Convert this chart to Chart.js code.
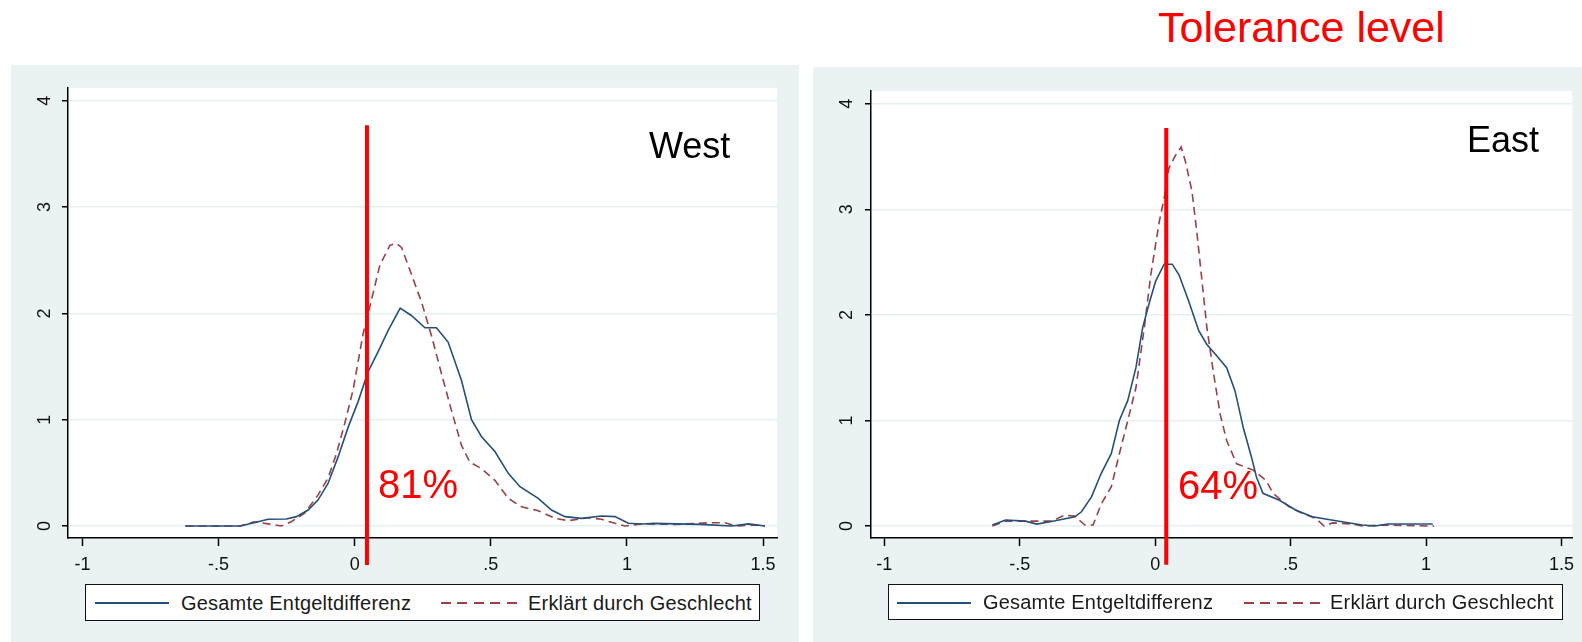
<!DOCTYPE html>
<html>
<head>
<meta charset="utf-8">
<script src="https://cdn.jsdelivr.net/npm/chart.js@4.4.1/dist/chart.umd.min.js"></script>
<style>
  html, body { margin: 0; padding: 0; background: #fff; }
  body { width: 1582px; height: 642px; position: relative; overflow: hidden; font-family: 'Liberation Sans', Arial, sans-serif; }
  .panel { position: absolute; background: #eaf2f3; }
  .panel canvas { position: absolute; left: 0; top: 0; }
  .label { position: absolute; line-height: 1; white-space: nowrap; }
  .legend { position: absolute; background: #fff; border: 1px solid #111; box-sizing: border-box; }
  .legend span { position: absolute; top: 50%; transform: translateY(-50%); font-size: 20px; letter-spacing: 0.2px; color: #1a1a1a; white-space: nowrap; }
  .legend i { position: absolute; top: 17px; height: 1.6px; }
  .solid { background: #24507a; }
  .dashed { background-image: repeating-linear-gradient(to right, #9a4147 0px, #9a4147 10px, transparent 10px, transparent 16.5px); }
</style>
</head>
<body>
  <div class="label" style="left:1158px; top:6px; font-size:43px; color:#ff0000;">Tolerance level</div>

  <div class="panel" style="left:11px; top:65px; width:788px; height:577px;">
    <canvas id="westChart" width="788" height="577"></canvas>
  </div>
  <div class="panel" style="left:813px; top:67px; width:769px; height:575px;">
    <canvas id="eastChart" width="769" height="575"></canvas>
  </div>

  <div class="label" style="left:649px; top:128px; font-size:36px; color:#000;">West</div>
  <div class="label" style="left:1467px; top:122px; font-size:36px; color:#000;">East</div>
  <div class="label" style="left:378px; top:464px; font-size:40px; color:#ff0000;">81%</div>
  <div class="label" style="left:1178px; top:465px; font-size:40px; color:#ff0000;">64%</div>

  <div class="legend" style="left:85px; top:584px; width:675px; height:37px;">
    <i class="solid" style="left:9px; width:74px;"></i>
    <span style="left:95px;">Gesamte Entgeltdifferenz</span>
    <i class="dashed" style="left:355px; width:76px;"></i>
    <span style="left:442px;">Erklärt durch Geschlecht</span>
  </div>
  <div class="legend" style="left:888px; top:584px; width:675px; height:36px;">
    <i class="solid" style="left:8px; width:74px;"></i>
    <span style="left:94px;">Gesamte Entgeltdifferenz</span>
    <i class="dashed" style="left:355px; width:76px;"></i>
    <span style="left:441px;">Erklärt durch Geschlecht</span>
  </div>

<script>
// Axis ticks
const xTickValues = [-1, -0.5, 0, 0.5, 1, 1.5];
const xTickLabels = ['-1', '-.5', '0', '.5', '1', '1.5'];
const yTickValues = [0, 1, 2, 3, 4];
const yTickLabels = ['0', '1', '2', '3', '4'];

const seriesNames = ['Gesamte Entgeltdifferenz', 'Erklärt durch Geschlecht'];

// West: Gesamte Entgeltdifferenz
const westTotalX = [-0.622, -0.42, -0.37, -0.318, -0.251, -0.214, -0.171, -0.135, -0.098, -0.061, -0.024, 0.0125, 0.049, 0.086, 0.123, 0.167, 0.208, 0.258, 0.30, 0.343, 0.392, 0.429, 0.466, 0.515, 0.564, 0.607, 0.674, 0.723, 0.772, 0.833, 0.907, 0.956, 1.005, 1.054, 1.10, 1.27, 1.385, 1.446, 1.507];
const westTotalY = [0, 0, 0.03, 0.063, 0.066, 0.088, 0.15, 0.244, 0.40, 0.65, 0.93, 1.17, 1.45, 1.64, 1.84, 2.05, 1.98, 1.865, 1.865, 1.73, 1.37, 1.0, 0.84, 0.70, 0.495, 0.37, 0.26, 0.15, 0.088, 0.072, 0.094, 0.088, 0.025, 0.019, 0.025, 0.015, 0, 0.02, 0];

// West: Erklärt durch Geschlecht
const westSexX = [-0.622, -0.42, -0.368, -0.318, -0.27, -0.233, -0.184, -0.135, -0.098, -0.067, -0.037, -0.006, 0.031, 0.061, 0.092, 0.129, 0.153, 0.172, 0.208, 0.245, 0.282, 0.319, 0.355, 0.392, 0.423, 0.466, 0.515, 0.564, 0.613, 0.674, 0.735, 0.785, 0.858, 0.907, 0.956, 0.993, 1.054, 1.18, 1.30, 1.36, 1.40, 1.47, 1.507];
const westSexY = [0, 0, 0.04, 0.02, 0, 0.04, 0.12, 0.29, 0.45, 0.68, 0.96, 1.28, 1.81, 2.12, 2.45, 2.64, 2.66, 2.62, 2.37, 2.11, 1.79, 1.43, 1.09, 0.76, 0.60, 0.54, 0.43, 0.26, 0.18, 0.144, 0.072, 0.05, 0.078, 0.063, 0.025, 0, 0.019, 0.015, 0.03, 0.03, 0, 0.01, 0];

// East: Gesamte Entgeltdifferenz
const eastTotalX = [-0.601, -0.552, -0.479, -0.437, -0.369, -0.296, -0.272, -0.235, -0.199, -0.162, -0.132, -0.101, -0.071, -0.046, -0.022, 0.002, 0.033, 0.063, 0.088, 0.124, 0.161, 0.191, 0.228, 0.264, 0.295, 0.325, 0.356, 0.374, 0.398, 0.459, 0.52, 0.58, 0.667, 0.764, 0.81, 0.86, 1.025];
const eastTotalY = [0.01, 0.057, 0.047, 0.019, 0.05, 0.088, 0.135, 0.276, 0.50, 0.685, 1.0, 1.19, 1.50, 1.88, 2.11, 2.32, 2.48, 2.48, 2.38, 2.13, 1.85, 1.72, 1.61, 1.50, 1.28, 0.935, 0.65, 0.465, 0.31, 0.245, 0.15, 0.088, 0.05, 0.01, 0, 0.019, 0.019];

// East: Erklärt durch Geschlecht
const eastSexX = [-0.601, -0.552, -0.467, -0.382, -0.333, -0.296, -0.26, -0.229, -0.199, -0.162, -0.132, -0.101, -0.071, -0.04, -0.016, 0.015, 0.033, 0.051, 0.075, 0.096, 0.112, 0.136, 0.155, 0.173, 0.191, 0.216, 0.24, 0.264, 0.301, 0.362, 0.41, 0.435, 0.496, 0.545, 0.593, 0.624, 0.654, 0.728, 0.764, 0.837, 1.03];
const eastSexY = [0, 0.047, 0.047, 0.047, 0.104, 0.094, 0.01, 0.01, 0.21, 0.37, 0.685, 1.0, 1.31, 1.88, 2.38, 2.88, 3.10, 3.39, 3.51, 3.59, 3.45, 3.17, 2.76, 2.32, 1.88, 1.44, 1.06, 0.81, 0.59, 0.53, 0.43, 0.31, 0.18, 0.12, 0.072, 0, 0.03, 0.019, 0, 0.01, 0];

// Tolerance level (vertical red line): x position and y extent
const westToleranceX = 0.045;
const eastToleranceX = 0.041;
const toleranceYRange = [3.77, -0.367];

function toPoints(xs, ys) {
  return xs.map((x, i) => ({ x: x, y: ys[i] }));
}

// White plot region, like Stata's plotregion
const plotBackground = {
  id: 'plotBackground',
  beforeDraw: function(chart) {
    const ctx = chart.ctx;
    const a = chart.chartArea;
    ctx.save();
    ctx.fillStyle = '#ffffff';
    ctx.fillRect(a.left, a.top, a.right - a.left, a.bottom - a.top);
    ctx.restore();
  }
};

function buildChart(canvasId, opts) {
  const tickFont = { family: "'Liberation Sans', Arial, sans-serif", size: 18 };

  const datasets = [
    {
      label: 'Tolerance level',
      data: [{ x: opts.tolX, y: toleranceYRange[0] }, { x: opts.tolX, y: toleranceYRange[1] }],
      borderColor: '#ff0000',
      borderWidth: 4,
      borderCapStyle: 'butt',
      pointRadius: 0,
      clip: false,
      order: 0
    },
    {
      label: seriesNames[0],
      data: toPoints(opts.totalX, opts.totalY),
      borderColor: '#24507a',
      borderWidth: 1.6,
      pointRadius: 0,
      tension: 0,
      order: 1
    },
    {
      label: seriesNames[1],
      data: toPoints(opts.sexX, opts.sexY),
      borderColor: '#9a4147',
      borderWidth: 1.6,
      borderDash: [8, 5],
      pointRadius: 0,
      tension: 0,
      order: 2
    }
  ];

  return new Chart(document.getElementById(canvasId).getContext('2d'), {
    type: 'line',
    data: { datasets: datasets },
    plugins: [plotBackground],
    options: {
      responsive: false,
      animation: false,
      layout: { padding: { top: 22, right: opts.padRight, bottom: 0, left: 0 } },
      plugins: {
        legend: { display: false },
        tooltip: { enabled: false }
      },
      scales: {
        x: {
          type: 'linear',
          min: opts.xMin,
          max: opts.xMax,
          afterBuildTicks: function(scale) {
            scale.ticks = xTickValues.map(v => ({ value: v }));
          },
          afterFit: function(scale) { scale.height = 104; },
          ticks: {
            font: tickFont,
            color: '#111',
            padding: 8,
            maxRotation: 0,
            callback: function(value) { return xTickLabels[xTickValues.indexOf(value)]; }
          },
          grid: {
            drawOnChartArea: false,
            tickLength: 8,
            tickColor: '#000',
            tickWidth: 1.5
          },
          border: { display: true, color: '#000', width: 1.5 }
        },
        y: {
          type: 'linear',
          min: -0.113,
          max: 4.122,
          afterBuildTicks: function(scale) {
            scale.ticks = yTickValues.map(v => ({ value: v }));
          },
          afterFit: function(scale) { scale.width = opts.yWidth; },
          ticks: {
            font: tickFont,
            color: '#111',
            padding: opts.yPad,
            minRotation: 90,
            maxRotation: 90,
            crossAlign: 'center',
            callback: function(value) { return yTickLabels[yTickValues.indexOf(value)]; }
          },
          grid: {
            color: '#e6eff1',
            lineWidth: 1.5,
            tickLength: 6,
            tickColor: '#000',
            tickWidth: 1.5
          },
          border: { display: true, color: '#000', width: 1.5 }
        }
      }
    }
  });
}

document.addEventListener('DOMContentLoaded', function() {
  buildChart('westChart', {
    totalX: westTotalX, totalY: westTotalY,
    sexX: westSexX, sexY: westSexY,
    tolX: westToleranceX,
    xMin: -1.053, xMax: 1.551,
    yWidth: 57, yPad: 12, padRight: 22
  });

  buildChart('eastChart', {
    totalX: eastTotalX, totalY: eastTotalY,
    sexX: eastSexX, sexY: eastSexY,
    tolX: eastToleranceX,
    xMin: -1.049, xMax: 1.540,
    yWidth: 58, yPad: 13, padRight: 3
  });
});
</script>
</body>
</html>
